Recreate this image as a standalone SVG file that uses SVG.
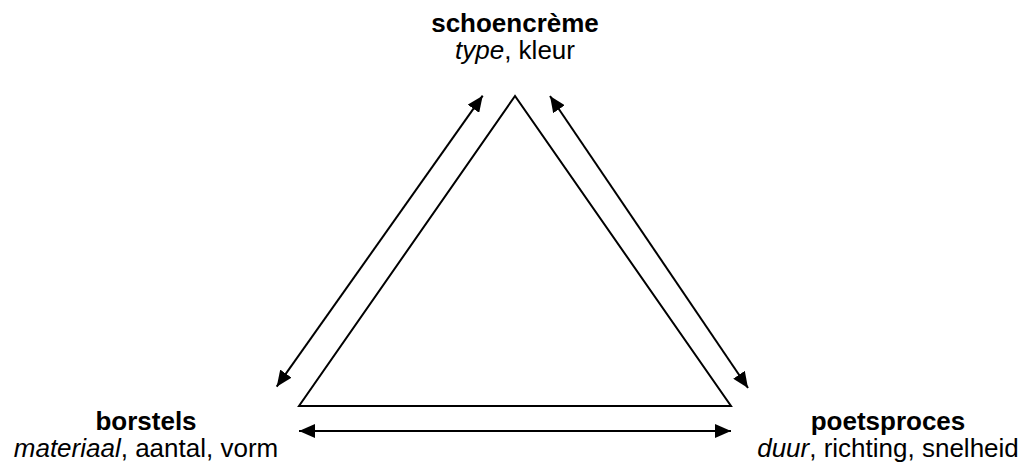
<svg xmlns="http://www.w3.org/2000/svg" width="1027" height="464" viewBox="0 0 1027 464">
  <defs>
    <marker id="ah" markerUnits="userSpaceOnUse" markerWidth="16" markerHeight="14" refX="16" refY="7" orient="auto-start-reverse" viewBox="0 0 16 14">
      <path d="M0,0 L16,7 L0,14 z" fill="#000"/>
    </marker>
    <style>
      .lbl { font-family: "Liberation Sans", Arial, Helvetica, sans-serif; font-size: 26px; fill: #000; text-anchor: middle; }
      .b { font-weight: bold; }
      .i { font-style: italic; }
      .edge { stroke: #000; stroke-width: 2; fill: none; marker-start: url(#ah); marker-end: url(#ah); }
      .tri { stroke: #000; stroke-width: 2; fill: #fff; stroke-linejoin: miter; }
    </style>
  </defs>
  <rect width="1027" height="464" fill="#fff"/>
  <g id="triangle">
    <polygon class="tri" points="515,96 299,406 731,406"/>
  </g>
  <g id="connectors">
    <line class="edge" x1="482.7" y1="95.7" x2="276.7" y2="386.7"/>
    <line class="edge" x1="550" y1="96" x2="748" y2="388"/>
    <line class="edge" x1="299" y1="431" x2="731" y2="431"/>
  </g>
  <g id="schoencreme">
    <text class="lbl b" x="515" y="32">schoencrème</text>
    <text class="lbl" x="515" y="59"><tspan class="i">type</tspan>, kleur</text>
  </g>
  <g id="borstels">
    <text class="lbl b" x="146" y="430">borstels</text>
    <text class="lbl" x="146" y="457"><tspan class="i">materiaal</tspan>, aantal, vorm</text>
  </g>
  <g id="poetsproces">
    <text class="lbl b" x="888" y="430">poetsproces</text>
    <text class="lbl" x="888" y="457"><tspan class="i">duur</tspan>, richting, snelheid</text>
  </g>
</svg>
